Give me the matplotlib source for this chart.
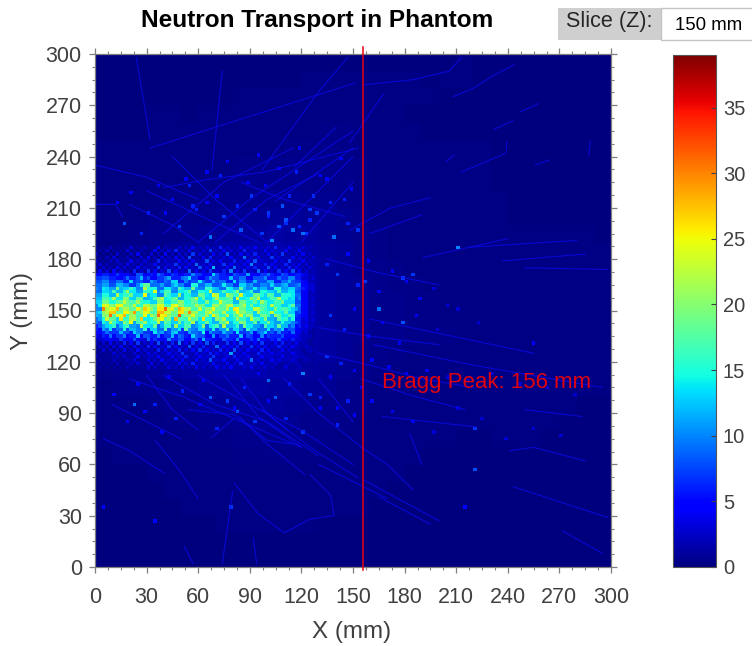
import numpy as np
import matplotlib
matplotlib.use("Agg")
import matplotlib.pyplot as plt
from matplotlib.patches import Rectangle
from matplotlib.ticker import MultipleLocator

plt.rcParams["font.family"] = ["Liberation Sans", "DejaVu Sans"]

# background dose, 10 mm cells, top row is y = 290-300
coarse_dose = [
    [.1,.1,.1,.1,.1,.1,.1,.1,.1,.1,.1,.1,.1,.1,.1,.1,.1,.1,.1,.1,.1,.2,.1,.1,.1,.1,.1,.1,.1,.1],
    [.1,.1,.1,.1,.1,.1,.1,.1,.1,.1,.1,.1,.2,.2,.2,.2,.2,.2,.2,.1,.2,.2,.1,.1,.1,.1,.1,.1,.1,.1],
    [.1,.1,.1,.1,.1,.1,.1,.1,.2,.2,.2,.2,.2,.3,.3,.3,.2,.2,.2,.2,.1,.1,.1,.1,.1,.1,.1,.1,.1,.1],
    [.1,.1,.1,.2,.2,.1,.2,.2,.2,.2,.2,.2,.3,.3,.3,.3,.2,.2,.1,.1,.1,.1,.1,.1,.1,.1,.1,.1,.1,.1],
    [.1,.1,.1,.2,.2,.2,.2,.2,.2,.2,.3,.3,.3,.4,.4,.3,.2,.2,.2,.1,.1,.1,.1,.1,.1,.1,.1,.1,.1,.1],
    [.2,.2,.2,.2,.2,.2,.2,.3,.3,.3,.3,.4,.4,.5,.4,.3,.3,.2,.2,.2,.2,.2,.2,.1,.1,.1,.1,.1,.1,.1],
    [.2,.2,.2,.2,.3,.3,.3,.3,.4,.4,.5,.5,.5,.5,.5,.4,.3,.2,.2,.2,.2,.2,.2,.1,.1,.1,.1,.1,.1,.1],
    [.2,.2,.2,.3,.3,.3,.4,.4,.5,.5,.6,.6,.6,.6,.5,.4,.3,.2,.2,.2,.2,.2,.2,.1,.1,.1,.1,.1,.1,.1],
    [.2,.2,.3,.3,.4,.4,.5,.5,.6,.7,.7,.8,.7,.7,.6,.4,.3,.2,.2,.2,.2,.2,.2,.2,.1,.1,.1,.1,.1,.1],
    [.2,.3,.3,.4,.5,.5,.6,.7,.8,.9,1,1,.9,.8,.7,.5,.3,.3,.2,.2,.2,.2,.2,.2,.1,.1,.1,.1,.1,.1],
    [.3,.3,.4,.5,.6,.7,.9,1,1.1,1.2,1.3,1.2,1.1,.9,.7,.5,.4,.3,.2,.2,.2,.2,.2,.2,.2,.2,.2,.2,.2,.1],
    [.3,.4,.5,.6,.8,1,1.2,1.4,1.5,1.6,1.6,1.5,1.3,1,.8,.6,.4,.3,.3,.3,.3,.3,.3,.2,.2,.2,.2,.2,.2,.2],
    [.7,1,1.2,1.5,1.7,1.8,1.9,2,2.1,2.1,2,1.9,1.5,1.1,.8,.6,.5,.4,.3,.3,.3,.3,.3,.3,.3,.3,.3,.2,.2,.2],
    [.7,1,1.2,1.5,1.7,1.8,1.9,2,2.1,2.1,2,1.9,1.5,1.1,.8,.7,.5,.4,.4,.3,.3,.3,.3,.3,.3,.3,.3,.3,.2,.2],
    [.7,1,1.2,1.5,1.7,1.8,1.9,2,2.1,2.1,2,1.9,1.5,1.1,.9,.8,.6,.5,.4,.4,.3,.3,.3,.3,.3,.3,.3,.3,.2,.2],
    [.7,1,1.2,1.5,1.7,1.8,1.9,2,2.1,2.1,2,1.9,1.5,1.1,.9,.8,.6,.5,.4,.4,.3,.3,.3,.3,.3,.3,.3,.3,.2,.2],
    [.7,1,1.2,1.5,1.7,1.8,1.9,2,2.1,2.1,2,1.9,1.5,1.1,.9,.7,.6,.5,.4,.4,.4,.3,.3,.3,.3,.3,.3,.3,.2,.2],
    [.7,1,1.2,1.5,1.7,1.8,1.9,2,2.1,2.1,2,1.9,1.5,1.1,.8,.6,.5,.4,.3,.3,.3,.3,.3,.3,.3,.3,.2,.2,.2,.2],
    [.4,.5,.7,.9,1.1,1.3,1.5,1.6,1.7,1.7,1.5,1.4,1.2,.9,.7,.5,.4,.3,.3,.3,.3,.3,.3,.3,.3,.2,.2,.2,.2,.2],
    [.3,.4,.5,.6,.7,.9,1.1,1.2,1.3,1.3,1.2,1.1,.9,.8,.6,.4,.3,.3,.2,.2,.2,.2,.2,.2,.2,.2,.2,.2,.2,.2],
    [.2,.3,.3,.4,.5,.6,.8,.9,1,1,1,.9,.7,.6,.5,.4,.3,.2,.2,.2,.2,.2,.2,.2,.2,.2,.2,.2,.1,.1],
    [.2,.2,.3,.3,.4,.4,.5,.6,.7,.8,.8,.7,.6,.5,.4,.3,.3,.2,.2,.2,.2,.2,.2,.2,.2,.2,.2,.1,.1,.1],
    [.2,.2,.2,.2,.3,.3,.4,.4,.5,.5,.6,.5,.5,.4,.3,.3,.2,.2,.2,.2,.2,.1,.1,.2,.2,.2,.1,.1,.1,.1],
    [.1,.2,.2,.2,.2,.3,.3,.3,.4,.4,.4,.4,.4,.3,.3,.2,.2,.2,.2,.1,.1,.1,.1,.1,.1,.1,.1,.1,.1,.1],
    [.1,.1,.1,.2,.2,.2,.2,.3,.3,.3,.3,.3,.3,.3,.2,.2,.2,.2,.1,.1,.1,.1,.1,.1,.1,.1,.1,.1,.1,.1],
    [.1,.1,.1,.1,.2,.2,.2,.2,.2,.3,.3,.3,.2,.2,.2,.2,.2,.1,.1,.1,.1,.1,.1,.1,.1,.1,.1,.1,.1,.1],
    [.1,.1,.1,.1,.1,.2,.2,.2,.2,.2,.2,.2,.2,.2,.2,.2,.1,.1,.1,.1,.1,.1,.1,.1,.1,.1,.1,.1,.1,.1],
    [.1,.1,.1,.1,.1,.1,.1,.2,.2,.2,.2,.2,.2,.1,.1,.1,.1,.1,.1,.1,.1,.1,.1,.1,.1,.1,.1,.1,.1,.1],
    [.1,.1,.1,.1,.1,.1,.1,.1,.1,.1,.1,.1,.1,.1,.1,.1,.1,.1,.1,.1,.1,.1,.1,.1,.1,.1,.1,.1,.1,.1],
    [.1,.1,.1,.1,.1,.1,.1,.1,.1,.1,.1,.1,.1,.1,.1,.1,.1,.1,.1,.1,.1,.1,.1,.1,.1,.1,.1,.1,.1,.1],
]

# beam band: 4 mm columns from x = 0, 2 mm rows, top row is y = 186-188
beam_dose = [
    [1,1,2,1,1,3,1,2,1,4,2,1,3,2,5,2,3,2,6,3,2,4,3,5,2,3,6,2,4,2,3,2],
    [1,2,1,1,3,1,2,1,4,2,3,6,2,4,2,3,7,2,4,3,2,6,3,2,5,3,2,4,2,5,2,1],
    [2,1,1,3,1,2,4,1,3,2,5,2,3,2,7,3,2,5,3,8,2,4,3,6,2,4,3,7,2,3,4,2],
    [1,2,3,1,2,1,3,5,2,3,2,4,3,8,2,4,6,2,3,5,2,9,3,4,2,7,3,2,5,3,2,3],
    [2,1,2,3,1,4,2,3,1,6,3,2,5,3,4,2,8,3,5,2,6,3,4,8,3,2,5,3,7,2,4,2],
    [3,2,1,2,4,2,3,2,5,2,3,7,3,4,9,3,5,2,7,4,3,5,10,3,6,4,2,6,3,4,3,2],
    [2,3,2,4,3,2,5,3,2,7,4,3,6,4,3,8,4,12,3,5,9,3,4,6,3,8,5,3,6,4,2,3],
    [4,3,5,3,2,6,3,7,4,3,8,5,3,9,5,4,7,3,6,10,4,7,3,9,5,3,7,4,8,5,3,2],
    [5,6,4,7,5,3,8,4,6,9,5,7,4,6,10,7,5,13,6,4,8,6,11,5,7,9,4,8,5,6,4,2],
    [7,8,6,5,9,6,12,8,5,7,11,6,9,13,7,5,10,8,6,12,7,9,5,8,10,6,9,7,10,6,3,3],
    [8,10,7,9,6,13,8,6,11,7,9,13,6,10,8,14,7,11,9,6,13,10,7,12,8,11,6,9,12,7,4,2],
    [9,11,8,12,10,7,14,18,9,11,8,13,10,7,15,9,12,8,14,10,7,13,11,8,10,13,9,12,8,10,5,3],
    [10,14,11,19,13,16,10,22,15,9,14,11,17,12,19,10,16,13,9,15,11,18,10,14,12,9,15,11,13,9,6,3],
    [9,13,17,12,21,14,11,16,24,13,17,10,14,18,11,15,23,12,17,14,20,12,16,10,15,13,17,12,14,8,5,3],
    [11,15,12,22,16,19,13,25,14,10,18,13,21,15,12,19,14,24,13,22,16,24,13,19,15,18,12,16,15,9,4,2],
    [12,17,21,14,20,13,18,12,17,22,15,19,12,16,23,18,13,22,16,19,24,14,21,23,13,17,22,15,14,10,5,3],
    [13,19,15,18,23,17,21,15,13,20,14,17,21,15,18,14,20,16,24,17,12,19,15,18,21,14,17,19,13,8,4,2],
    [14,24,20,25,19,23,16,22,19,24,17,25,20,16,22,19,14,21,18,23,16,22,19,14,17,22,16,13,18,9,5,3],
    [10,30,24,28,22,18,25,27,21,26,31,24,28,22,17,23,20,25,18,22,26,19,15,23,18,14,20,17,15,11,4,2],
    [13,22,27,18,25,29,20,24,17,28,23,19,26,30,21,16,24,18,22,15,25,20,17,22,16,23,15,18,13,8,4,3],
    [12,20,31,24,28,21,17,25,22,31,26,18,32,20,24,17,21,25,16,23,18,24,20,13,19,16,21,14,17,7,5,2],
    [11,23,18,26,16,22,27,14,19,25,20,28,17,23,18,26,15,20,22,14,21,16,23,17,20,12,18,16,15,6,4,3],
    [9,15,22,13,20,25,17,21,15,23,18,13,20,16,22,14,19,12,18,23,15,20,13,18,14,19,11,15,12,8,3,2],
    [8,13,16,12,17,11,22,14,18,12,16,21,13,17,11,20,14,17,22,12,16,19,14,11,17,13,18,12,10,6,4,2],
    [6,11,14,9,15,12,10,16,13,9,17,11,14,18,10,13,9,15,11,17,13,10,16,12,9,14,11,13,8,5,3,2],
    [5,9,7,12,8,13,10,7,14,11,8,13,7,11,9,15,10,8,12,9,14,7,11,9,13,8,10,6,9,4,3,1],
    [4,6,9,7,10,6,12,8,6,10,7,12,9,6,13,8,5,11,7,9,6,12,8,5,10,7,6,8,5,4,2,2],
    [3,5,4,7,5,8,4,9,7,5,10,6,8,5,9,12,6,4,8,6,10,5,7,9,4,6,8,4,6,3,2,1],
    [2,3,5,3,6,4,7,3,5,8,4,6,10,4,7,5,8,6,3,7,5,8,4,5,7,3,5,6,3,4,2,1],
    [2,2,3,4,2,5,3,6,4,3,7,5,3,8,4,6,3,9,5,4,6,3,7,4,5,3,6,3,4,2,3,1],
    [1,3,2,2,4,2,5,3,2,6,4,3,6,3,5,7,4,3,6,4,8,3,5,3,6,4,2,5,3,2,1,2],
    [1,1,3,2,1,3,2,4,3,2,5,3,7,2,4,3,6,4,3,11,3,5,2,6,3,4,3,2,4,2,1,1],
    [2,1,1,2,3,1,4,2,3,5,2,4,3,6,2,5,3,7,2,4,6,3,4,2,5,3,2,4,2,3,2,1],
    [1,1,2,1,2,3,1,3,2,4,2,3,5,2,4,3,8,3,5,2,4,3,9,3,2,4,3,2,3,1,2,1],
    [1,1,1,2,1,2,3,1,4,2,3,2,4,3,6,2,3,5,2,4,3,6,2,3,4,2,3,1,2,2,1,1],
    [1,1,1,1,2,1,1,3,2,1,3,2,3,2,4,3,2,4,3,5,2,3,4,2,3,2,1,3,1,2,1,1],
]

# single bright cells (mm, dose)
hit_x = [22,66,82,100,121,78,4,35,210,165,157,179,184,221,221,179,214,255,
         97,101,106,110,114,118,122,125,
         12,20,30,36,44,52,58,64,70,76,82,88,94,100,106,112,118,124,130,136,142,148,
         16,26,40,48,56,66,74,84,92,102,110,120,128,138,146,152,
         54,64,72,90,98,108,116,126,134,144,
         10,24,34,42,50,62,76,86,94,104,112,124,136,146,154,
         18,28,38,46,60,70,80,92,100,110,120,130,140,150,
         134,140,146,152,158,164,172,180,188,196,204,
         136,144,150,158,166,176,186,198,210,222,
         134,142,150,160,170,180,192,204,216,230,246,262,278,
         130,140,150,160,172,184,196,210,224,238,254,270]
hit_y = [95,99,90,108,113,35,35,27,187,151,166,168,171,57,81,143,34,130,
         195,204,198,201,196,199,194,202,
         212,218,206,222,214,226,208,230,216,236,210,224,240,206,232,216,244,208,228,212,238,220,
         200,194,206,198,210,192,204,196,208,190,202,194,206,192,200,196,
         222,212,228,216,222,210,230,216,226,214,
         100,106,94,110,102,108,96,104,112,98,106,100,110,96,104,
         84,90,78,86,94,80,92,84,96,86,78,92,82,88,
         176,170,182,164,178,160,172,166,156,162,152,
         146,138,150,134,142,130,146,138,150,142,
         122,118,114,120,116,112,114,110,108,112,106,104,100,
         98,92,88,96,90,84,78,92,86,74,80,76]
hit_v = [9,8,9,9,10,7,5,5,10,9,7,7,7,8,7,8,5,5,
         7,6,8,7,9,6,7,6,
         5,4,6,4,5,4,6,4,5,4,6,5,4,7,5,6,4,7,5,6,4,5,
         8,6,5,7,6,9,7,8,6,10,8,9,7,9,6,7,
         6,5,6,7,5,8,6,7,5,6,
         5,4,6,4,6,5,7,6,5,8,6,7,5,6,5,
         4,5,4,6,4,6,5,7,5,6,7,5,6,5,
         6,7,5,6,5,5,4,4,4,3,3,
         7,6,5,5,5,4,4,3,3,3,
         7,6,5,5,4,4,4,3,3,3,3,3,3,
         6,5,5,4,4,4,3,3,3,3,3,3]

# neutron tracks, x and y vertices (mm)
track_xs = [[24,32],[32,151],[150,105],[74,68],[147,130,97],[52,57],[74,80],[94,92],
            [81,95,110,125,139,137,125],[35,48,60],[54,81,100,115],[68,81],[84,100,122],
            [97,125,153],[208,220,231,244],[148,168],[156,185,206,213],[247,258],[232,243],
            [204,209],[213,239],[239,239],[256,264],[288,287],[148,172,195],[160,190],
            [218,280],[237,285],[250,298],[191,240],[156,200],[243,298],[272,295],
            [241,255,285],[250,283],[183,190],[165,195],[160,255],[162,220,295],[167,221],
            [0,12,16],[40,68,99,153],[116,140],
            [60,90,120,150],[100,125,150],[120,150],[20,45,60],[30,62,95],[45,70,100],
            [70,100,130],[40,75,115],[85,110,145],[0,30,60],
            [20,50,85,120],[40,70,100,130],[60,90,120,150],[110,130,155],[130,150],
            [75,95,120],[10,30,50],[30,45,60],[85,100,112],[5,20,40],
            [130,160,190,220],[135,165,200],[130,160,200],[155,185,215],[130,150,170],[155,170,185]]
track_ys = [[298,250],[245,283],[245,214],[290,232],[298,278,232],[12,2],[2,44],[2,17],
            [49,31,20,28,30,42,54],[74,58,40],[92,89,74,72],[76,87],[88,72,54],
            [92,70,52],[275,280,287,294],[248,277],[282,285,290,298],[266,271],[256,261],
            [237,241],[231,242],[249,244],[235,238],[249,241],[197,210,216],[195,206],
            [187,191],[179,183],[175,174],[181,192],[51,27],[47,29],[21,8],
            [68,70,62],[92,88],[78,60],[41,25],[145,125],[130,118,105],[88,82],
            [212,212,205],[222,227,231,245],[234,257],
            [190,215,235,255],[190,215,240],[190,225],[212,200,190],[220,205,190],[240,215,190],
            [190,215,230],[195,225,245],[225,215,205],[235,228,215],
            [110,100,85,70],[112,95,85,65],[112,95,80,60],[110,90,70],[110,85],
            [112,88,70],[95,85,75],[112,92,80],[110,90,80],[75,68,55],
            [125,118,110,105],[180,172,165],[140,135,130],[110,100,92],[60,50,40],[70,60,45]]

x_ticks = np.arange(0, 301, 30)
y_ticks = np.arange(0, 301, 30)
cbar_ticks = [0, 5, 10, 15, 20, 25, 30, 35]
dose_max = 39
bragg_peak = 156
slice_z = 150

TEXT_COLOR = "#404040"
EDGE_COLOR = "#7f7f7f"


def build_grid():
    # 2 mm cells, first row is y = 0
    grid = np.kron(np.array(coarse_dose)[::-1], np.ones((5, 5)))
    n_rows = len(beam_dose)
    for r, row in enumerate(beam_dose):
        iy = 93 - r
        below = beam_dose[min(r + 1, n_rows - 1)]
        for c, val in enumerate(row):
            # staggered so the 4 mm readings do not show as dashes
            ix = c * 2 + r % 2
            grid[iy, ix] = val
            if 8 <= r <= 27:
                grid[iy, c * 2 + 1 - r % 2] = min(val, below[c])
    for x, y, v in zip(hit_x, hit_y, hit_v):
        grid[y // 2, x // 2] = max(grid[y // 2, x // 2], v)
    return grid


fig = plt.figure(figsize=(7.52, 6.46), dpi=100, facecolor="white")
W, H = 752.0, 646.0
ax = fig.add_axes([95 / W, 1 - 567 / H, 516 / W, 513 / H])
cax = fig.add_axes([673 / W, 1 - 567 / H, 43 / W, 512 / H])

im = ax.imshow(build_grid(), origin="lower", extent=[0, 300, 0, 300], cmap="jet",
               vmin=0, vmax=dose_max, aspect="auto", interpolation="nearest")

for xs, ys in zip(track_xs, track_ys):
    ax.plot(xs, ys, color="#0a0aee", linewidth=0.8, alpha=0.75, zorder=2)

ax.axvline(bragg_peak, ymin=-0.006, ymax=1.014, color="#e8000f", linewidth=1.1,
           clip_on=False, zorder=3)
ax.text(167, 108, f"Bragg Peak: {bragg_peak} mm", color="#e00010", fontsize=16,
        ha="left", va="center", zorder=4)

ax.set_xlim(0, 300)
ax.set_ylim(0, 300)
ax.set_xticks(x_ticks)
ax.set_yticks(y_ticks)
ax.xaxis.set_minor_locator(MultipleLocator(7.5))
ax.yaxis.set_minor_locator(MultipleLocator(7.5))
ax.tick_params(which="major", direction="out", length=4.5, width=0.9, color=EDGE_COLOR,
               labelsize=15.5, labelcolor=TEXT_COLOR, top=True, right=True, pad=5)
ax.tick_params(axis="x", which="major", pad=10)
ax.tick_params(which="minor", direction="out", length=2.4, width=0.8, color=EDGE_COLOR,
               top=True, right=True)
for spine in ax.spines.values():
    spine.set_edgecolor(EDGE_COLOR)
    spine.set_linewidth(0.9)

ax.set_xlabel("X (mm)", fontsize=17.4, color=TEXT_COLOR, va="center")
ax.set_ylabel("Y (mm)", fontsize=17.2, color=TEXT_COLOR, va="center")
ax.xaxis.set_label_coords(0.498, -0.127)
ax.yaxis.set_label_coords(-0.142, 0.499)
fig.text(317 / W, 1 - 21 / H, "Neutron Transport in Phantom", fontsize=17.6,
         fontweight="bold", color="black", ha="center", va="center")

cb = fig.colorbar(im, cax=cax)
cb.set_ticks(cbar_ticks)
cb.ax.tick_params(direction="in", length=3.5, width=0.8, color="#404040",
                  labelsize=14.5, labelcolor=TEXT_COLOR, pad=5)
cb.outline.set_edgecolor("#555555")
cb.outline.set_linewidth(0.8)

# slice selector above the colorbar
fig.add_artist(Rectangle((558 / W, 1 - 40 / H), 103 / W, 32 / H, transform=fig.transFigure,
                         facecolor="#cfcfcf", edgecolor="none"))
fig.add_artist(Rectangle((661 / W, 1 - 40 / H), 100 / W, 32 / H, transform=fig.transFigure,
                         facecolor="white", edgecolor="#c4c4c4", linewidth=1))
fig.text(566 / W, 1 - 22 / H, "Slice (Z):", fontsize=15.6, color="#262626", ha="left", va="center")
fig.text(709 / W, 1 - 25 / H, f"{slice_z} mm", fontsize=13.4, color="black", ha="center", va="center")

fig.savefig("out.png", dpi=100, facecolor="white")
plt.close(fig)
